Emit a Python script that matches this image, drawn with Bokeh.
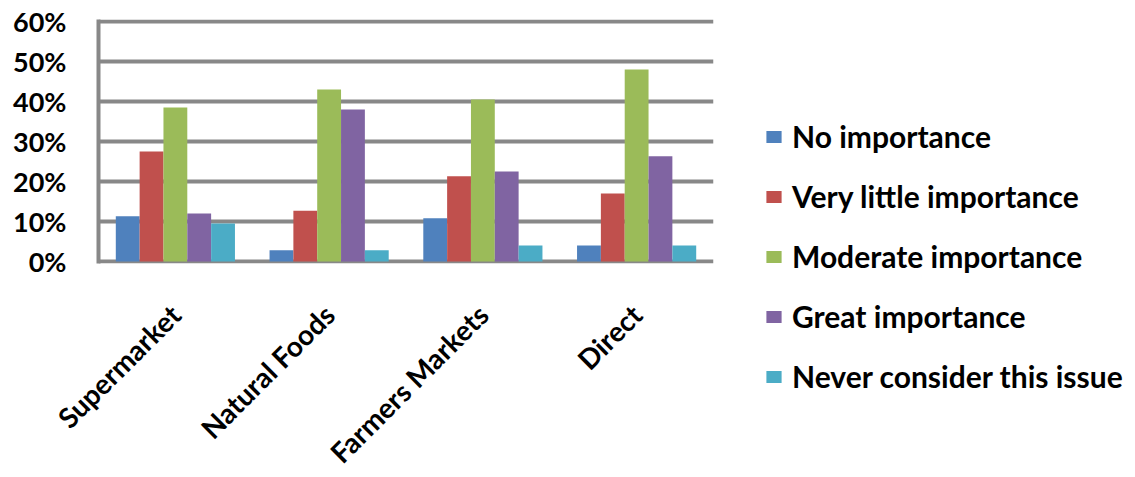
from math import pi
from bokeh.plotting import figure
from bokeh.models import ColumnDataSource, FixedTicker, NumeralTickFormatter, Legend, LegendItem, Range1d
from bokeh.transform import dodge
from bokeh.embed import file_html
from bokeh.resources import INLINE

categories = ["Supermarket", "Natural Foods", "Farmers Markets", "Direct"]
series_names = ["No importance", "Very little importance", "Moderate importance",
                "Great importance", "Never consider this issue"]
no_importance = [0.113, 0.028, 0.108, 0.040]
very_little = [0.275, 0.127, 0.213, 0.170]
moderate = [0.385, 0.430, 0.405, 0.480]
great = [0.120, 0.380, 0.225, 0.263]
never = [0.095, 0.028, 0.040, 0.040]
colors = ["#4F81BD", "#C0504D", "#9BBB59", "#8064A2", "#4BACC6"]
y_ticks = [0, 0.1, 0.2, 0.3, 0.4, 0.5, 0.6]

series = [no_importance, very_little, moderate, great, never]
keys = ["s0", "s1", "s2", "s3", "s4"]
data = {"cat": categories}
for k, s in zip(keys, series):
    data[k] = s
source = ColumnDataSource(data)

FONT = "Lato"

p = figure(x_range=categories, y_range=Range1d(-0.005, 0.605),
           frame_width=615, frame_height=244, output_backend="svg", toolbar_location=None,
           min_border_left=98, min_border_right=0, min_border_top=19, min_border_bottom=150)
p.outline_line_color = None

bw = 0.155
items = []
for i, (k, name, c) in enumerate(zip(keys, series_names, colors)):
    r = p.vbar(x=dodge("cat", (i - 2) * bw, range=p.x_range), top=k, bottom=0, width=bw,
               source=source, fill_color=c, line_color=None)
    items.append(LegendItem(label=name, renderers=[r]))

p.yaxis.ticker = FixedTicker(ticks=y_ticks)
p.yaxis.formatter = NumeralTickFormatter(format="0%")
p.yaxis.major_label_text_font = FONT
p.yaxis.major_label_text_font_style = "bold"
p.yaxis.major_label_text_font_size = "27px"
p.yaxis.major_label_text_color = "#000000"
p.yaxis.major_label_standoff = 26
p.yaxis.axis_line_color = "#888888"
p.yaxis.axis_line_width = 4
p.yaxis.major_tick_line_color = None
p.yaxis.minor_tick_line_color = None

p.xaxis.axis_line_color = None
p.xaxis.major_tick_line_color = None
p.xaxis.major_label_orientation = pi / 4
p.xaxis.major_label_text_font = FONT
p.xaxis.major_label_text_font_style = "bold"
p.xaxis.major_label_text_font_size = "28px"
p.xaxis.major_label_text_color = "#000000"
p.xaxis.major_label_standoff = 40

p.xgrid.grid_line_color = None
p.ygrid.ticker = FixedTicker(ticks=y_ticks)
p.ygrid.grid_line_color = "#888888"
p.ygrid.grid_line_width = 4

legend = Legend(items=items, location=(51, -132), glyph_width=19, glyph_height=15,
                label_height=38, spacing=22, label_standoff=9, padding=0, margin=0,
                label_text_font=FONT, label_text_font_style="bold", label_text_font_size="30px",
                label_text_color="#000000",
                border_line_color=None, background_fill_alpha=0)
p.add_layout(legend, "right")

open("out.html", "w").write(file_html(p, INLINE))
